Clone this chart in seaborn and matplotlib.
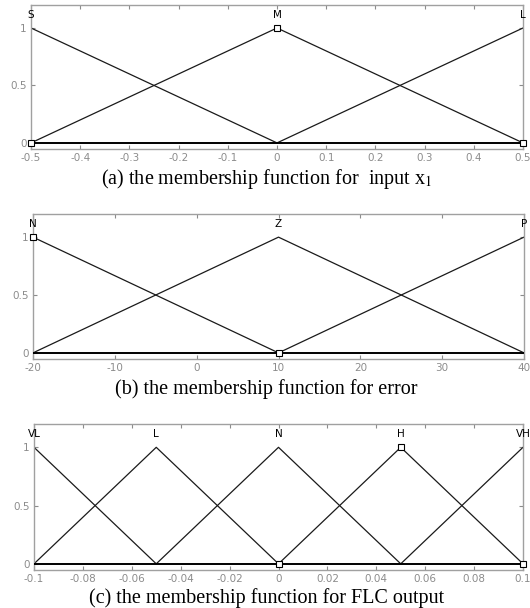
import numpy as np
import pandas as pd
import matplotlib
matplotlib.use("Agg")
import matplotlib.pyplot as plt
import seaborn as sns

sns.set_theme(style="white")
plt.rcParams["font.family"] = ["DejaVu Sans"]
plt.rcParams["mathtext.fontset"] = "stix"

# ---- membership functions: breakpoints of each triangle (visible part) ----
a_names = ["S", "M", "L"]
a_peaks = [-0.5, 0.0, 0.5]
a_x = [[-0.5, 0.0], [-0.5, 0.0, 0.5], [0.0, 0.5]]
a_mu = [[1, 0], [0, 1, 0], [0, 1]]
a_ticks = [-0.5, -0.4, -0.3, -0.2, -0.1, 0, 0.1, 0.2, 0.3, 0.4, 0.5]
a_ticklabels = ["-0.5", "-0.4", "-0.3", "-0.2", "-0.1", "0", "0.1", "0.2", "0.3", "0.4", "0.5"]

b_names = ["N", "Z", "P"]
b_peaks = [-20, 10, 40]
b_x = [[-20, 10], [-20, 10, 40], [10, 40]]
b_mu = [[1, 0], [0, 1, 0], [0, 1]]
b_ticks = [-20, -10, 0, 10, 20, 30, 40]
b_ticklabels = ["-20", "-10", "0", "10", "20", "30", "40"]

c_names = ["VL", "L", "N", "H", "VH"]
c_peaks = [-0.1, -0.05, 0.0, 0.05, 0.1]
c_x = [[-0.1, -0.05], [-0.1, -0.05, 0.0], [-0.05, 0.0, 0.05],
       [0.0, 0.05, 0.1], [0.05, 0.1]]
c_mu = [[1, 0], [0, 1, 0], [0, 1, 0], [0, 1, 0], [0, 1]]
c_ticks = [-0.1, -0.08, -0.06, -0.04, -0.02, 0, 0.02, 0.04, 0.06, 0.08, 0.1]
c_ticklabels = ["-0.1", "-0.08", "-0.06", "-0.04", "-0.02", "0",
                "0.02", "0.04", "0.06", "0.08", "0.1"]

# selection handles drawn by the editor (open squares)
a_handles = [(-0.5, 0), (0.0, 1), (0.5, 0)]
b_handles = [(-20, 1), (10, 0)]
c_handles = [(0.0, 0), (0.05, 1), (0.1, 0)]

captions = ["(a) the membership function for  input x$_1$",
            "(b) the membership function for error",
            "(c) the membership function for FLC output"]

W, H = 530, 608
fig = plt.figure(figsize=(W / 100, H / 100), dpi=100)

# axes boxes in pixels: left, top, right, bottom
boxes = [(31, 5, 523, 149), (33, 214, 524, 359), (34, 424, 523, 570)]
caption_y = [179, 389, 598]

panels = [
    (a_names, a_peaks, a_x, a_mu, a_ticks, a_ticklabels, a_handles),
    (b_names, b_peaks, b_x, b_mu, b_ticks, b_ticklabels, b_handles),
    (c_names, c_peaks, c_x, c_mu, c_ticks, c_ticklabels, c_handles),
]

grey = "#8c8c8c"
for (names, peaks, xs, mus, ticks, ticklabels, handles), (l, t, r, b), cy, cap in zip(
        panels, boxes, caption_y, captions):
    ax = fig.add_axes([l / W, 1 - b / H, (r - l) / W, (b - t) / H])
    rows = []
    for name, xv, mv in zip(names, xs, mus):
        for xi, mi in zip(xv, mv):
            rows.append({"x": xi, "mu": mi, "set": name})
    df = pd.DataFrame(rows)
    sns.lineplot(data=df, x="x", y="mu", hue="set", units="set",
                 estimator=None, sort=False, legend=False,
                 palette=["#1a1a1a"] * len(names), linewidth=0.9, ax=ax)
    ax.plot([ticks[0], ticks[-1]], [0, 0], color="black", lw=1.4, zorder=3)
    hx, hy = zip(*handles)
    ax.plot(hx, hy, linestyle="none", marker="s", markersize=4,
            markerfacecolor="white", markeredgecolor="black",
            markeredgewidth=0.8, zorder=4, clip_on=False)
    for name, p in zip(names, peaks):
        ax.text(p, 1.07, name, ha="center", va="bottom", fontsize=7.5,
                color="black")
    ax.set_xlim(ticks[0], ticks[-1])
    ax.set_ylim(-0.053, 1.2)
    ax.set_xticks(ticks)
    ax.set_xticklabels(ticklabels)
    ax.set_yticks([0, 0.5, 1])
    ax.set_yticklabels(["0", "0.5", "1"])
    ax.set_xlabel("")
    ax.set_ylabel("")
    ax.tick_params(direction="in", length=3, width=0.8, colors=grey,
                   labelsize=7.5, labelcolor=grey, pad=3,
                   top=True, right=True, bottom=True, left=True)
    for s in ax.spines.values():
        s.set_color("#a0a0a0")
        s.set_linewidth(1.0)
    fig.text(0.503, 1 - cy / H, cap, ha="center", va="center",
             fontsize=14.5, family="Liberation Serif", color="black")

fig.savefig("out.png", dpi=100)
